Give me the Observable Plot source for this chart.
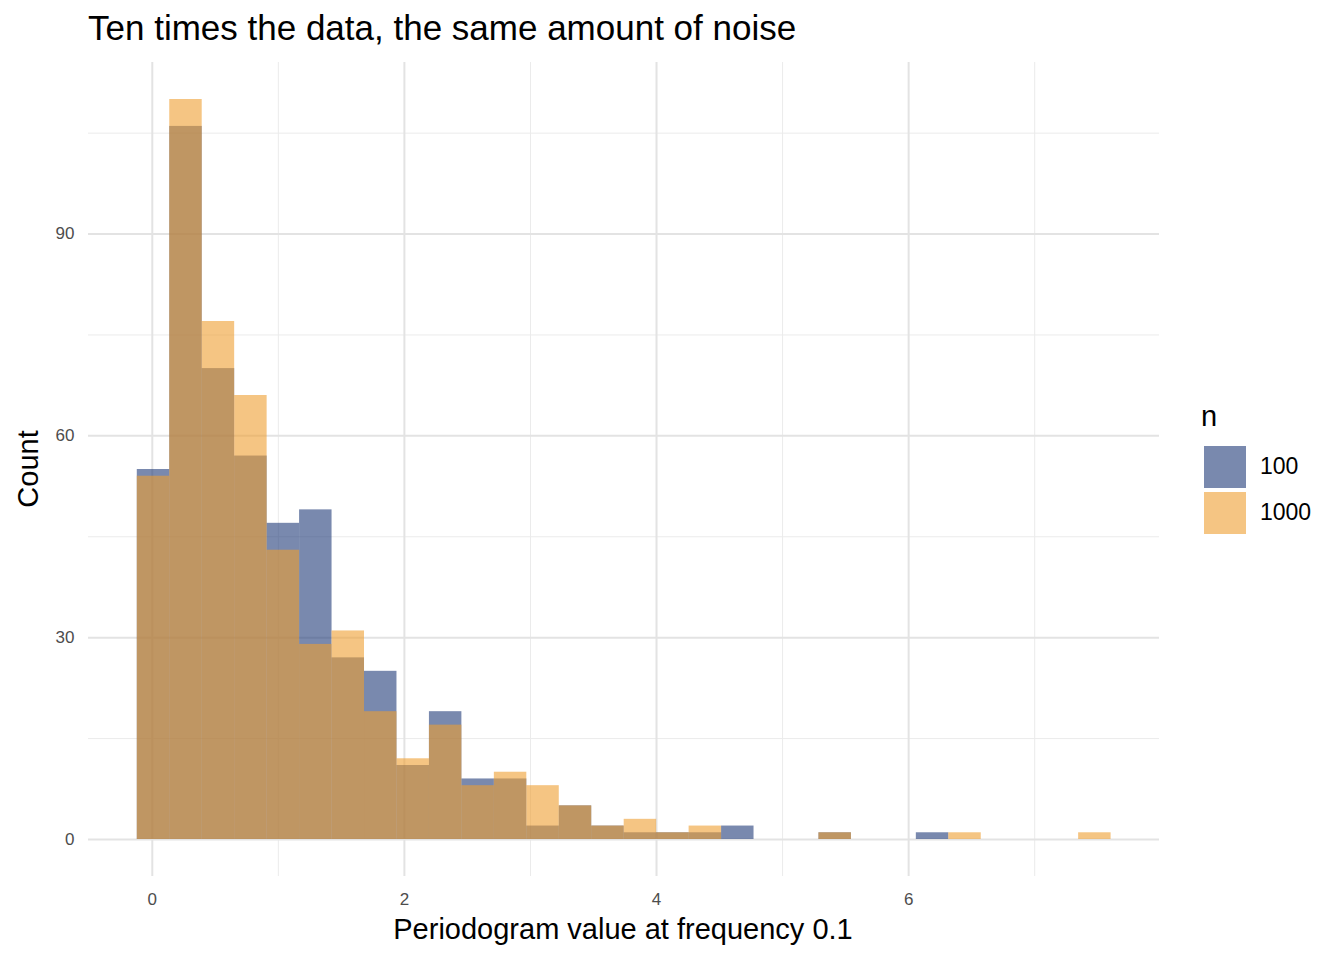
<!DOCTYPE html>
<html><head><meta charset="utf-8">
<script src="https://cdn.jsdelivr.net/npm/d3@7"></script>
<script src="https://cdn.jsdelivr.net/npm/@observablehq/plot@0.6"></script>
<style>
body{margin:0;font-family:"Liberation Sans",Arial,sans-serif;background:#fff}
#wrap{position:relative;width:1344px;height:960px}
.abs{position:absolute;white-space:nowrap}
</style></head><body>
<div id="wrap"></div>
<script>
const binStart = -0.119;
const binWidth = 0.2575;
const counts100  = [55,106,70,57,47,49,27,25,11,19,9,9,2,5,2,1,1,1,2,0,0,1,0,0,1,0,0,0,0,0];
const counts1000 = [54,110,77,66,43,29,31,19,12,17,8,10,8,5,2,3,1,2,0,0,0,1,0,0,0,1,0,0,0,1];
const groups = ["100","1000"];
const colors = ["#1f3a78","#ee9e30"];
const xTicks = [0,2,4,6], xMinor = [1,3,5,7];
const yTicks = [0,30,60,90], yMinor = [15,45,75,105];

const rows = [];
[counts100, counts1000].forEach((c, g) => c.forEach((v, i) => {
  if (v > 0) rows.push({n: groups[g], x1: binStart + i*binWidth, x2: binStart + (i+1)*binWidth, y: v});
}));

const chart = Plot.plot({
  width: 1344, height: 960,
  marginLeft: 88, marginRight: 185, marginTop: 62, marginBottom: 84,
  style: {fontFamily: "Liberation Sans, Arial, sans-serif", fontSize: "17px", color: "#4d4d4d"},
  x: {domain: [-0.506, 7.99], label: null},
  y: {domain: [-5.5, 115.5], label: null},
  color: {domain: groups, range: colors},
  marks: [
    Plot.ruleX(xMinor, {stroke: "#ebebeb", strokeWidth: 1}),
    Plot.ruleY(yMinor, {stroke: "#ebebeb", strokeWidth: 1}),
    Plot.ruleX(xTicks, {stroke: "#e3e3e3", strokeWidth: 2}),
    Plot.ruleY(yTicks, {stroke: "#e3e3e3", strokeWidth: 2}),
    Plot.rectY(rows, {x1: "x1", x2: "x2", y1: 0, y2: "y", fill: "n", fillOpacity: 0.6}),
    Plot.axisX({ticks: xTicks, tickSize: 0, tickPadding: 16, label: null, fill: "#4d4d4d", fontSize: 17}),
    Plot.axisY({ticks: yTicks, tickSize: 0, tickPadding: 14, label: null, fill: "#4d4d4d", fontSize: 17})
  ]
});
const wrap = document.getElementById("wrap");
chart.style.position = "absolute"; chart.style.left = "0"; chart.style.top = "0";
wrap.appendChild(chart);
function add(html, css){const d=document.createElement("div");d.className="abs";d.innerHTML=html;Object.assign(d.style,css);wrap.appendChild(d);return d;}
add("Ten times the data, the same amount of noise",{left:"88px",top:"8px",fontSize:"35px",color:"#000"});
add("Periodogram value at frequency 0.1",{left:"623px",top:"913px",fontSize:"29px",color:"#000",transform:"translateX(-50%)"});
add("Count",{left:"28px",top:"469px",fontSize:"29px",color:"#000",transform:"translate(-50%,-50%) rotate(-90deg)"});
add("n",{left:"1201px",top:"400px",fontSize:"29px",color:"#000"});
groups.forEach((g,i)=>{
  add("",{left:"1204px",top:(446+i*46)+"px",width:"42px",height:"42px",background:colors[i],opacity:"0.6"});
  add(g,{left:"1260px",top:(453+i*46)+"px",fontSize:"23px",color:"#000"});
});
</script></body></html>
